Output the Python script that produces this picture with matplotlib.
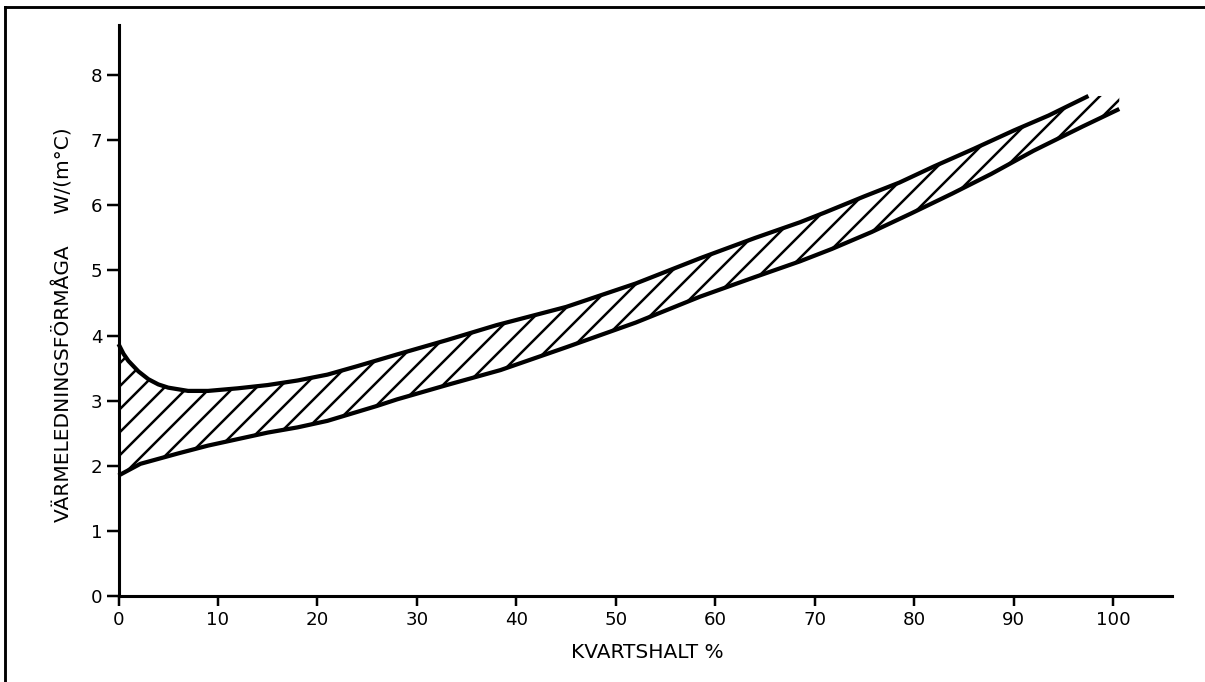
import numpy as np
import matplotlib
matplotlib.use("Agg")
import matplotlib.pyplot as plt
from matplotlib.lines import Line2D

# ---- data ----
upper_x = [0, 0.5, 1, 2, 3, 4, 5, 7, 9, 12, 15, 18, 21, 24, 28, 33, 38, 45, 52,
           58.5, 64, 68.5, 71, 75, 78.5, 82, 86, 90, 93.5, 97.5]
upper_y = [3.87, 3.72, 3.61, 3.45, 3.33, 3.25, 3.20, 3.15, 3.15, 3.19, 3.24, 3.31,
           3.40, 3.53, 3.71, 3.93, 4.16, 4.44, 4.80, 5.19, 5.50, 5.74, 5.89, 6.14,
           6.35, 6.60, 6.87, 7.15, 7.38, 7.68]

lower_x = [0, 2.2, 6, 9, 12, 15, 18, 21, 26, 28, 33, 38.4, 45, 52, 58.5, 64, 68.5,
           71.7, 75.7, 79.6, 83.8, 87.7, 92, 96.9, 100.6]
lower_y = [1.85, 2.03, 2.19, 2.31, 2.41, 2.51, 2.59, 2.69, 2.92, 3.02, 3.24, 3.47,
           3.82, 4.20, 4.60, 4.90, 5.14, 5.33, 5.59, 5.87, 6.18, 6.48, 6.84, 7.21, 7.48]

x_ticks = [0, 10, 20, 30, 40, 50, 60, 70, 80, 90, 100]
y_ticks = [0, 1, 2, 3, 4, 5, 6, 7, 8]
x_label = "KVARTSHALT %"
y_label = "VÄRMELEDNINGSFÖRMÅGA     W/(m°C)"

# ---- figure ----
W, H, DPI = 1205, 682, 138
plt.rcParams['font.family'] = ['DejaVu Sans']
plt.rcParams['hatch.linewidth'] = 1.3
plt.rcParams['hatch.color'] = 'black'

fig = plt.figure(figsize=(W / DPI, H / DPI), dpi=DPI)
fig.patch.set_facecolor('white')

x0, x1 = 118.5, 1172
y0, y1 = 596, 25
ax = fig.add_axes([x0 / W, 1 - y0 / H, (x1 - x0) / W, (y0 - y1) / H])
ax.set_xlim(0, 105.9)
ax.set_ylim(0, 8.77)

# hatched band between the curves
gx = np.union1d(upper_x, lower_x)
top = np.interp(gx, upper_x, upper_y)
bot = np.interp(gx, lower_x, lower_y)
ax.fill_between(gx, bot, top, facecolor='none', edgecolor='black',
                hatch='//', linewidth=0)

ax.plot(upper_x, upper_y, color='black', lw=2.2, solid_capstyle='butt',
        solid_joinstyle='round', clip_on=False)
ax.plot(lower_x, lower_y, color='black', lw=2.2, solid_capstyle='butt',
        solid_joinstyle='round', clip_on=False)

for s in ['top', 'right']:
    ax.spines[s].set_visible(False)
for s in ['left', 'bottom']:
    ax.spines[s].set_linewidth(1.6)
    ax.spines[s].set_color('black')

ax.set_xticks(x_ticks)
ax.set_yticks(y_ticks)
ax.tick_params(axis='y', direction='out', length=6.5, width=1.3, pad=2,
               labelsize=9.5, colors='black')
ax.tick_params(axis='x', direction='out', length=5, width=1.3, pad=3,
               labelsize=9.5, colors='black')

fig.text(647 / W, 1 - 653 / H, x_label, ha='center', va='center', fontsize=10.5)
fig.text(63 / W, 1 - 324.5 / H, y_label, ha='center', va='center',
         rotation=90, fontsize=10.5)

# scan frame (left and top edges)
fig.add_artist(Line2D([4.5 / W, 4.5 / W], [0, 1 - 7 / H], transform=fig.transFigure,
                      color='black', lw=1.5, solid_capstyle='projecting'))
fig.add_artist(Line2D([4.5 / W, 1], [1 - 7 / H, 1 - 7 / H], transform=fig.transFigure,
                      color='black', lw=1.5, solid_capstyle='projecting'))

fig.savefig('out.png', dpi=DPI, facecolor='white')
